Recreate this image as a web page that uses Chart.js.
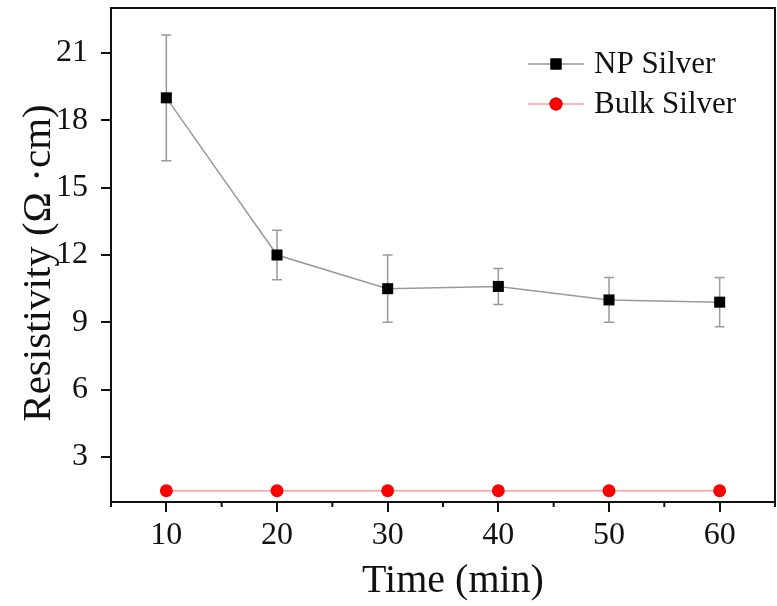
<!DOCTYPE html>
<html>
<head>
<meta charset="utf-8">
<script src="https://cdn.jsdelivr.net/npm/chart.js@4.4.1/dist/chart.umd.min.js"></script>
<style>
  html, body { margin: 0; padding: 0; background: #fff; }
  #wrap { width: 777px; height: 606px; }
</style>
</head>
<body>
<div id="wrap"><canvas id="chart" width="777" height="606"></canvas></div>
<script>
// values
const times = [10, 20, 30, 40, 50, 60];
const npSilver = [19.0, 12.0, 10.5, 10.6, 10.0, 9.9];
const npErrUp = [2.8, 1.1, 1.5, 0.8, 1.0, 1.1];
const npErrDown = [2.8, 1.1, 1.5, 0.8, 1.0, 1.1];
const bulkSilver = [1.5, 1.5, 1.5, 1.5, 1.5, 1.5];
const xTicks = [10, 20, 30, 40, 50, 60];
const xMinorTicks = [5, 15, 25, 35, 45, 55, 65];
const yTicks = [3, 6, 9, 12, 15, 18, 21];

const serif = "'Liberation Serif', 'Times New Roman', serif";

// error bars under the NP markers
const errorBars = {
    id: 'errorBars',
    beforeDatasetsDraw(chart) {
        const ctx = chart.ctx;
        const x = chart.scales.x, y = chart.scales.y;
        ctx.save();
        ctx.strokeStyle = '#9a9a9a';
        ctx.lineWidth = 1.5;
        times.forEach(function(t, i) {
            let px = x.getPixelForValue(t);
            let top = y.getPixelForValue(npSilver[i] + npErrUp[i]);
            let bot = y.getPixelForValue(npSilver[i] - npErrDown[i]);
            ctx.beginPath();
            ctx.moveTo(px, top); ctx.lineTo(px, bot);
            ctx.moveTo(px - 5, top); ctx.lineTo(px + 5, top);
            ctx.moveTo(px - 5, bot); ctx.lineTo(px + 5, bot);
            ctx.stroke();
        });
        ctx.restore();
    }
};

// frame, minor ticks, axis titles, legend
const decorations = {
    id: 'decorations',
    afterDraw(chart) {
        const ctx = chart.ctx;
        const a = chart.chartArea;
        const x = chart.scales.x;
        ctx.save();
        ctx.strokeStyle = '#111';
        ctx.lineWidth = 2;
        ctx.strokeRect(a.left, a.top, a.right - a.left, a.bottom - a.top);

        ctx.beginPath();
        xMinorTicks.forEach(function(t) {
            let px = x.getPixelForValue(t);
            ctx.moveTo(px, a.bottom); ctx.lineTo(px, a.bottom + 5);
        });
        ctx.stroke();

        ctx.fillStyle = '#111';
        ctx.font = '40px ' + serif;
        ctx.textAlign = 'center';
        ctx.textBaseline = 'alphabetic';
        ctx.fillText('Time (min)', 453, 592);

        ctx.font = '41px ' + serif;
        ctx.translate(50, 263);
        ctx.rotate(-Math.PI / 2);
        ctx.fillText('Resistivity (\u03A9 \u00B7cm)', 0, 0);
        ctx.restore();

        // legend
        ctx.save();
        const items = [
            { label: 'NP Silver', ds: chart.data.datasets[0], y: 64 },
            { label: 'Bulk Silver', ds: chart.data.datasets[1], y: 104 }
        ];
        items.forEach(function(it) {
            ctx.strokeStyle = it.ds.borderColor;
            ctx.lineWidth = 1.5;
            ctx.beginPath();
            ctx.moveTo(528, it.y); ctx.lineTo(584, it.y);
            ctx.stroke();
            Chart.helpers.drawPoint(ctx, {
                pointStyle: it.ds.pointStyle,
                radius: it.ds.pointRadius,
                borderWidth: 0
            }, 556, it.y);
            ctx.fillStyle = it.ds.pointBackgroundColor;
            ctx.fill();
            ctx.fillStyle = '#111';
            ctx.font = '31px ' + serif;
            ctx.textAlign = 'left';
            ctx.textBaseline = 'middle';
            ctx.fillText(it.label, 594, it.y + 1);
        });
        ctx.restore();
    }
};

const tickFont = { family: serif, size: 32 };

new Chart(document.getElementById('chart'), {
    type: 'line',
    data: {
        datasets: [{
            label: 'NP Silver',
            data: times.map((t, i) => ({ x: t, y: npSilver[i] })),
            borderColor: '#9a9a9a',
            borderWidth: 1.5,
            pointStyle: 'rect',
            pointRadius: 7.8,
            pointBackgroundColor: '#000',
            pointBorderWidth: 0
        }, {
            label: 'Bulk Silver',
            data: times.map((t, i) => ({ x: t, y: bulkSilver[i] })),
            borderColor: '#ff9a9a',
            borderWidth: 1.5,
            pointStyle: 'circle',
            pointRadius: 6.5,
            pointBackgroundColor: '#ff0000',
            pointBorderWidth: 0
        }]
    },
    options: {
        responsive: false,
        animation: false,
        layout: { autoPadding: false, padding: { top: 8, right: 2, left: 0, bottom: 0 } },
        plugins: { legend: { display: false }, tooltip: { enabled: false } },
        scales: {
            x: {
                type: 'linear',
                min: 5,
                max: 65,
                afterBuildTicks: function(scale) { scale.ticks = xTicks.map(v => ({ value: v })); },
                afterFit: function(scale) {
                    scale.height = 104;
                    scale.paddingLeft = 0;
                    scale.paddingRight = 0;
                },
                grid: { drawOnChartArea: false, color: '#111', lineWidth: 2, tickLength: 10 },
                border: { display: true, color: '#111', width: 2 },
                ticks: { font: tickFont, color: '#111', padding: 4, maxRotation: 0 }
            },
            y: {
                type: 'linear',
                min: 1,
                max: 23,
                afterBuildTicks: function(scale) { scale.ticks = yTicks.map(v => ({ value: v })); },
                afterFit: function(scale) {
                    scale.width = 111;
                    scale.paddingTop = 0;
                    scale.paddingBottom = 0;
                },
                grid: { drawOnChartArea: false, color: '#111', lineWidth: 2, tickLength: 10 },
                border: { display: true, color: '#111', width: 2 },
                ticks: { font: tickFont, color: '#111', padding: 13 }
            }
        }
    },
    plugins: [errorBars, decorations]
});
</script>
</body>
</html>
